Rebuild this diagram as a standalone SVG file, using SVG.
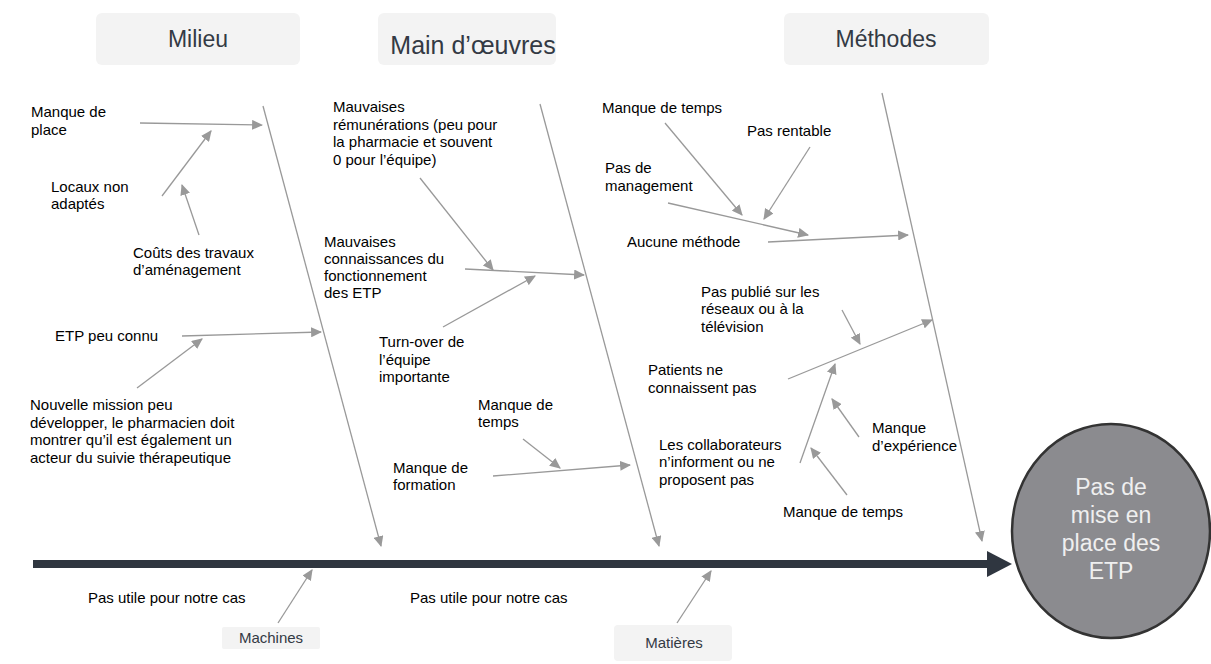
<svg xmlns="http://www.w3.org/2000/svg" width="1211" height="664" viewBox="0 0 1211 664">
<style>
.lbl{font-family:"Liberation Sans",Arial,sans-serif;font-size:15px;fill:#000}
.hdr{font-family:"Liberation Sans",Arial,sans-serif;font-size:23px;fill:#333a44;text-anchor:middle}
.sub{font-family:"Liberation Sans",Arial,sans-serif;font-size:15px;fill:#333a44;text-anchor:middle}
.box{fill:#f3f3f3}
.ar{stroke:#999;stroke-width:1.3;fill:none;marker-end:url(#ah)}
.head{font-family:"Liberation Sans",Arial,sans-serif;font-size:23px;fill:#efefef;text-anchor:middle}
</style>
<defs>
<marker id="ah" viewBox="0 0 10 10" refX="9" refY="5" markerWidth="11" markerHeight="10" markerUnits="userSpaceOnUse" orient="auto" preserveAspectRatio="none">
<path d="M0,0 L10,5 L0,10 z" fill="#999"/>
</marker>
</defs>
<rect width="1211" height="664" fill="#fff"/>

<g id="cat-milieu"><rect class="box" x="96" y="13" width="204" height="52" rx="6"/><text class="hdr" x="198" y="47">Milieu</text></g>
<g id="cat-main"><rect class="box" x="378" y="13" width="178" height="52" rx="6"/><text class="hdr" x="473" y="54" style="font-size:25px">Main d’œuvres</text></g>
<g id="cat-methodes"><rect class="box" x="784" y="13" width="205" height="52" rx="6"/><text class="hdr" x="886" y="47">Méthodes</text></g>
<g id="cat-machines"><rect class="box" x="222" y="627" width="98" height="22" rx="2"/><text class="sub" x="271" y="643">Machines</text></g>
<g id="cat-matieres"><rect class="box" x="614" y="625" width="118" height="36" rx="4"/><text class="sub" x="674" y="648">Matières</text></g>

<g id="effect">
<ellipse cx="1111" cy="531" rx="99" ry="107" fill="#8b8b8f" stroke="#333" stroke-width="2.5"/>
<text class="head" x="1111" y="495">Pas de</text>
<text class="head" x="1111" y="523">mise en</text>
<text class="head" x="1111" y="551">place des</text>
<text class="head" x="1111" y="579">ETP</text>
</g>

<g id="spine">
<line x1="33" y1="564" x2="992" y2="564" stroke="#2f3640" stroke-width="8"/>
<path d="M987,551 L1012,564 L987,577 z" fill="#2f3640"/>
</g>

<g id="labels">
<text class="lbl" x="31" y="117">Manque de</text><text class="lbl" x="31" y="135">place</text>
<text class="lbl" x="51" y="192">Locaux non</text><text class="lbl" x="51" y="209">adaptés</text>
<text class="lbl" x="133" y="258">Coûts des travaux</text><text class="lbl" x="133" y="275">d’aménagement</text>
<text class="lbl" x="55" y="341">ETP peu connu</text>
<text class="lbl" x="30" y="410">Nouvelle mission peu</text>
<text class="lbl" x="30" y="427.5">développer, le pharmacien doit</text>
<text class="lbl" x="30" y="445">montrer qu’il est également un</text>
<text class="lbl" x="30" y="462.5">acteur du suivie thérapeutique</text>

<text class="lbl" x="333" y="112">Mauvaises</text>
<text class="lbl" x="333" y="129.5">rémunérations (peu pour</text>
<text class="lbl" x="333" y="147">la pharmacie et souvent</text>
<text class="lbl" x="333" y="164.5">0 pour l’équipe)</text>
<text class="lbl" x="324" y="247">Mauvaises</text>
<text class="lbl" x="324" y="264">connaissances du</text>
<text class="lbl" x="324" y="281">fonctionnement</text>
<text class="lbl" x="324" y="298">des ETP</text>
<text class="lbl" x="379" y="347">Turn-over de</text>
<text class="lbl" x="379" y="365">l’équipe</text>
<text class="lbl" x="379" y="382">importante</text>
<text class="lbl" x="478" y="410">Manque de</text>
<text class="lbl" x="478" y="427">temps</text>
<text class="lbl" x="393" y="473">Manque de</text>
<text class="lbl" x="393" y="490">formation</text>

<text class="lbl" x="602" y="113">Manque de temps</text>
<text class="lbl" x="747" y="136">Pas rentable</text>
<text class="lbl" x="605" y="173">Pas de</text>
<text class="lbl" x="605" y="191">management</text>
<text class="lbl" x="627" y="247">Aucune méthode</text>
<text class="lbl" x="701" y="297">Pas publié sur les</text>
<text class="lbl" x="701" y="314">réseaux ou à la</text>
<text class="lbl" x="701" y="332">télévision</text>
<text class="lbl" x="648" y="375">Patients ne</text>
<text class="lbl" x="648" y="393">connaissent pas</text>
<text class="lbl" x="659" y="450">Les collaborateurs</text>
<text class="lbl" x="659" y="467">n’informent ou ne</text>
<text class="lbl" x="659" y="485">proposent pas</text>
<text class="lbl" x="872" y="433">Manque</text>
<text class="lbl" x="872" y="451">d’expérience</text>
<text class="lbl" x="783" y="517">Manque de temps</text>

<text class="lbl" x="88" y="603">Pas utile pour notre cas</text>
<text class="lbl" x="410" y="603">Pas utile pour notre cas</text>
</g>

<g id="connectors">
<line class="ar" x1="263" y1="106" x2="381" y2="546"/>
<line class="ar" x1="540" y1="104" x2="659" y2="546"/>
<line class="ar" x1="882" y1="93" x2="982" y2="541"/>

<line class="ar" x1="140" y1="123" x2="262" y2="125"/>
<line class="ar" x1="162" y1="196" x2="211" y2="131"/>
<line class="ar" x1="199" y1="235" x2="182" y2="185"/>
<line class="ar" x1="182" y1="336" x2="321" y2="332"/>
<line class="ar" x1="137" y1="388" x2="202" y2="339"/>

<line class="ar" x1="420" y1="178" x2="493" y2="270"/>
<line class="ar" x1="465" y1="269" x2="584" y2="275"/>
<line class="ar" x1="443" y1="327" x2="535" y2="276"/>
<line class="ar" x1="523" y1="439" x2="560" y2="468"/>
<line class="ar" x1="493" y1="476" x2="630" y2="465"/>

<line class="ar" x1="665" y1="123" x2="742" y2="215"/>
<line class="ar" x1="810" y1="147" x2="764" y2="219"/>
<line class="ar" x1="668" y1="203" x2="808" y2="235"/>
<line class="ar" x1="768" y1="242" x2="908" y2="235"/>
<line class="ar" x1="842" y1="310" x2="860" y2="344"/>
<line class="ar" x1="788" y1="379" x2="932" y2="320"/>
<line class="ar" x1="800" y1="463" x2="835" y2="364"/>
<line class="ar" x1="859" y1="437" x2="832" y2="399"/>
<line class="ar" x1="847" y1="495" x2="811" y2="448"/>

<line class="ar" x1="278" y1="623" x2="312" y2="570"/>
<line class="ar" x1="677" y1="623" x2="711" y2="571"/>
</g>
</svg>
